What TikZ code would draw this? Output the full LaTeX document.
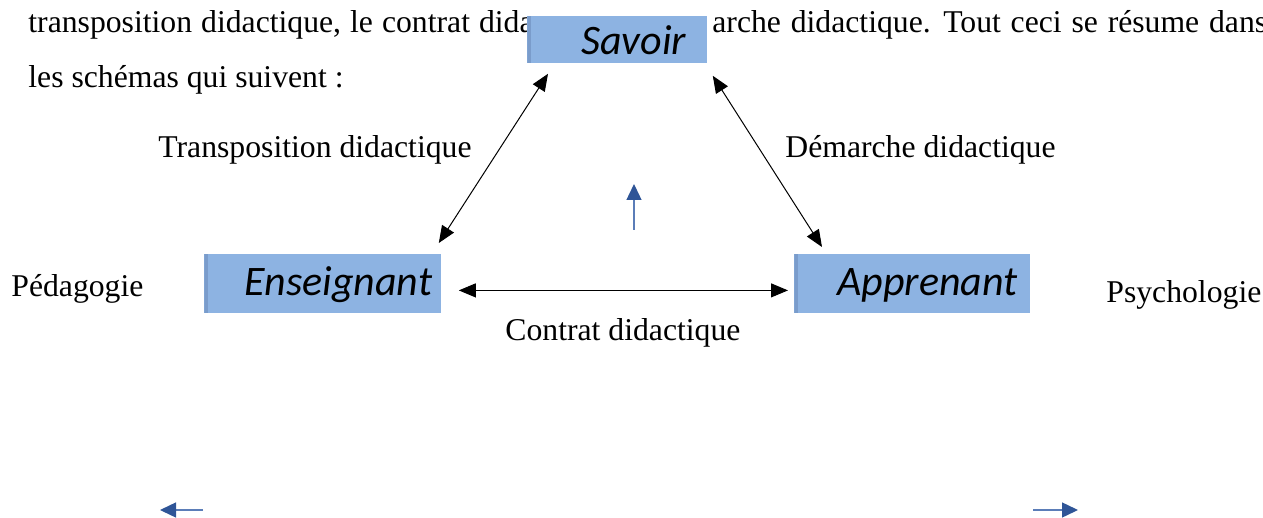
\documentclass[tikz,border=0pt]{standalone}
\usepackage{fontspec}
\setmainfont{Liberation Serif}
\newfontfamily\rolefont{Carlito}
\usetikzlibrary{arrows.meta}

\definecolor{boxblue}{HTML}{8DB3E2}
\definecolor{boxedge}{HTML}{7A9CCB}
\definecolor{tipblue}{HTML}{2F5597}
\definecolor{lineblue}{HTML}{5B7DB8}

\tikzset{
  body/.style={font=\fontsize{15.85}{19}\selectfont, inner sep=0pt, anchor=base west},
  role/.style={fill=boxblue, draw=none, inner sep=0pt, anchor=north west,
    path picture={\fill[boxedge] (path picture bounding box.south west)
      rectangle ([xshift=2pt]path picture bounding box.north west);}},
  rolename/.style={font=\rolefont\itshape\fontsize{21}{25}\selectfont, inner sep=0pt, anchor=base west},
  link/.style={{Triangle[length=8.5pt,width=7pt]}-{Triangle[length=8.5pt,width=7pt]}, line width=0.5pt},
  cue/.style={draw=lineblue, line width=0.7pt, -{Triangle[length=8pt,width=7.5pt,color=tipblue]}}
}

\begin{document}
\begin{tikzpicture}[x=0.5pt,y=-0.5pt]
\useasboundingbox (0,0) rectangle (1263,518);

% running text of the page (justified line, hence the wider spaces)
\node[body] (l1a) at (28,33) {\spaceskip=4.5pt transposition didactique, le contrat dida};
\node[body] (l1b) at (712,33) {\spaceskip=4.9pt arche didactique. Tout ceci se résume dans};
\node[body] (l2) at (28,88) {les schémas qui suivent :};

% the three poles
\node[role, minimum width=90pt, minimum height=23.5pt] (sav) at (527,16) {};
\node[role, minimum width=118.5pt, minimum height=29.5pt] (ens) at (204,254) {};
\node[role, minimum width=118pt, minimum height=29.5pt] (app) at (794,254) {};
\node[rolename] (savT) at (581,55) {Savoir};
\node[rolename] (ensT) at (244,295) {Enseignant};
\node[rolename] (appT) at (837,295) {Apprenant};

% relations
\draw[link] ([shift={(21,10)}]sav.south west) -- ([shift={(-3,-11)}]ens.north east);
\draw[link] ([shift={(5,12)}]sav.south east) -- ([shift={(28,-7)}]app.north west);
\draw[link] ([shift={(17,6.5)}]ens.east) -- ([shift={(-6,6.5)}]app.west);

% labels
\node[body] (tr) at (158,158) {Transposition didactique};
\node[body] (dm) at (785,158) {Démarche didactique};
\node[body] (ct) at (505,340) {Contrat didactique};
\node[body] (pe) at (11,297) {Pédagogie};
\node[body] (ps) at (1106,302) {Psychologie};

% small blue arrows
\coordinate (up0) at (634,230);
\coordinate (up1) at (634,184);
\coordinate (lf0) at (203,510);
\coordinate (lf1) at (160,510);
\coordinate (rt0) at (1033,510);
\coordinate (rt1) at (1078,510);
\draw[cue] (up0) -- (up1);
\draw[cue] (lf0) -- (lf1);
\draw[cue] (rt0) -- (rt1);
\end{tikzpicture}
\end{document}
